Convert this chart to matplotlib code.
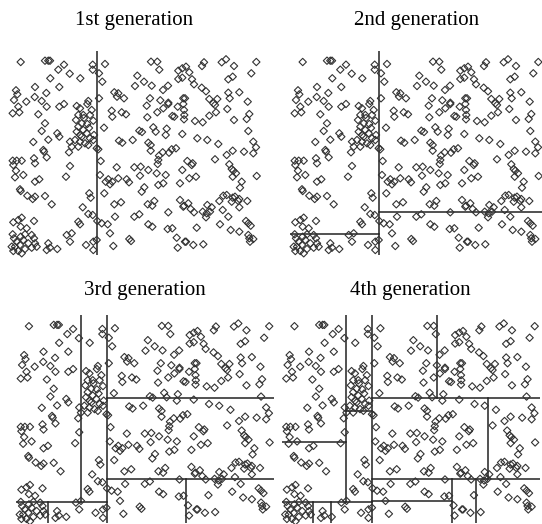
import matplotlib
matplotlib.use("Agg")
import matplotlib.pyplot as plt
import numpy as np

# point positions (same sample in every panel)
pts = [
    (20.7, 62), (45, 60.7), (48.3, 60.7), (50, 60.7), (64, 64.7), (58.3, 69.7), (69.7, 73.7),
    (92.7, 64.7), (92.7, 69.7), (50.3, 78.3), (80.3, 78.3), (35, 87), (59.3, 87), (16, 90.3),
    (17.3, 94.3), (46.3, 93), (14, 100), (26.3, 101.7), (34.7, 97), (41.7, 101), (88.3, 101),
    (105, 64), (99, 73.3), (102.3, 81.7), (151, 61.7), (157.3, 61.7), (159.3, 69.7), (137.3, 75.7),
    (144, 81.7), (135, 86), (151.7, 85.7), (168, 85.7), (163, 90), (178.3, 70.7), (182.3, 68.3),
    (178.3, 79), (182.3, 77.7), (114.3, 92.3), (118.3, 93.3), (117, 96.7), (124, 98.3), (99, 98.3),
    (150, 98.3), (160.3, 100.3), (168.3, 102.7), (183.3, 98.3),
    (186, 66.7), (189.3, 72.3), (192, 79.3), (194, 84.3), (204, 62.3), (202, 66), (221.7, 62.3),
    (226, 59.3), (234, 66), (256.3, 62), (251.3, 73.3), (232.7, 76.7), (228.3, 79.3), (201.7, 87.7),
    (206, 91.3), (185, 98.3), (228.3, 92.7), (229.7, 98.3), (239.3, 92.3), (209.3, 99), (217.3, 99),
    (213.3, 103.3), (247.7, 101.7),
    (18.3, 106.7), (12.7, 113.3), (19.3, 112.3), (46.7, 106.7), (59.3, 106.7), (64, 104), (38.3, 114.3),
    (45, 123.3), (41.7, 131), (57.3, 133.3), (59.3, 136.7), (33.3, 142), (48.3, 139.7), (43.3, 150),
    (44, 151.7), (46.7, 157.3), (70, 141.7), (71.7, 146.7), (69, 152.3),
    (76.7, 106), (80, 108.3), (87.3, 104), (91.7, 110), (90, 115), (83.3, 115), (78.3, 115), (76, 120),
    (81.7, 123.3), (87.3, 124), (93.3, 120.7), (78.3, 126.7), (83.3, 130), (76.7, 131.7), (86.7, 133.3),
    (81.7, 136.7), (90, 138.3), (75, 140), (80, 141.7), (85, 143.3), (93.3, 140), (78.3, 146.7),
    (88.3, 145), (96.7, 148.3), (94, 135), (84, 118), (89, 128), (80, 135),
    (12.7, 160.7), (16.7, 160.7), (21.7, 160.7), (13.3, 165), (34, 158.3), (35, 163.3), (16, 170.7),
    (23.3, 175), (15, 177.3), (39.3, 179.3), (66, 176.7), (70, 166),
    (146.7, 105.7), (111.7, 110.7), (121.7, 112.3), (126, 114.3), (112.3, 116.7), (157.3, 112.3),
    (163.3, 108.3), (168.3, 104), (177.7, 106.7), (183.3, 104), (172.3, 116), (174.3, 116.7),
    (184.3, 115), (147.3, 117.3), (104, 127.7), (139.3, 130.7), (142, 132), (153.3, 127.3),
    (155.7, 131.7), (166.7, 128.7), (165.7, 135), (182.3, 134), (119, 140.7), (122.3, 142.7),
    (132.7, 140), (148.3, 142.7), (150.7, 145), (98.3, 149.3), (150.7, 150.7), (162.7, 152.3),
    (159, 155.7), (158.3, 160), (157.7, 164), (169, 152.7), (171.7, 149.3), (176, 148.3),
    (100.7, 161), (116.7, 167.3), (134.3, 167.3), (140.7, 166.7), (148.3, 170), (156.7, 173.3),
    (165.7, 175), (182.3, 170), (100, 175), (108.3, 179.3), (118.3, 178.3), (126.7, 179.3), (140, 175.7),
    (215, 105), (184, 110), (184, 119.3), (227.3, 109), (216, 112.3), (209.3, 115.7), (195, 121),
    (202.7, 122.3), (234, 120), (249.3, 114), (246.7, 119), (248.3, 131), (197.3, 138.3), (207.3, 140),
    (218.3, 144), (253.3, 141.7), (256, 147.3), (253.3, 153.3), (232.7, 150.7), (226.7, 155),
    (244, 151.7), (215, 159.3), (187.3, 161), (192.7, 163.3), (191.7, 165), (229.3, 164.3),
    (231.7, 169), (233.3, 170.7), (236, 173.3), (232.7, 176.7), (256.7, 176), (189.3, 178.3), (196, 176.7),
    (35, 181.7), (20, 189.3), (20.7, 191), (27.3, 195.7), (32.7, 199), (35, 196.7), (45, 196),
    (51.7, 204.3), (89.3, 193.3), (90.7, 197.7), (82.7, 207.3), (88.3, 214), (92.7, 215), (97.3, 221),
    (78.3, 221.7), (80, 224.3), (34, 221), (13.3, 222.3), (18.3, 220), (21.7, 217.7), (20.7, 226.7),
    (26.7, 228.3),
    (12.7, 234.3), (14, 238.3), (16.7, 241.7), (20.7, 236.7), (23.3, 240), (25, 234.3), (31.7, 235),
    (34, 238.3), (35, 243.3), (28.3, 243.3), (20, 245), (15, 246.7), (11.7, 246.7), (18.3, 251),
    (25, 249), (31.7, 247.7), (13.3, 251), (21.7, 253.3), (36.7, 246.7),
    (48.3, 243.3), (50, 247.7), (46.7, 250), (57.3, 249), (66.7, 235), (71.7, 233.3), (70, 241.7),
    (86, 245), (93.3, 241.7), (96.7, 240), (93.3, 250),
    (105.7, 181.7), (110, 184.3), (112.3, 181.7), (129, 182.3), (158.3, 185), (163.3, 183.3),
    (180, 183.3), (104.3, 193.3), (144.3, 187.3), (141.7, 191.7), (114.3, 204.3), (121, 202.3),
    (147.7, 204.3), (152.3, 205.7), (154.3, 201), (180, 200), (183.3, 206.7), (115, 216.7),
    (134.3, 216.7), (139.3, 214.3), (168.3, 212.3), (101.7, 223.3), (107.7, 224.3), (148.3, 224.3),
    (152.3, 226.7), (167.7, 229), (172.3, 228.3), (110, 233.3), (176.7, 237.7), (129.3, 239),
    (131, 241), (113.3, 246), (177.7, 247.7), (185, 241.7),
    (241.7, 181.7), (240, 187.7), (184, 205.7), (188.3, 203.3), (190.7, 209), (194, 212.3),
    (207.3, 205), (211.7, 207.3), (202.7, 211.7), (206.7, 213.3), (210, 211.7), (206, 217.3),
    (219.3, 201), (223.3, 195.7), (226.7, 195), (232.7, 197.7), (235, 196.7), (239.3, 199),
    (231.7, 201.7), (238.3, 201), (247.3, 201), (239.3, 207.3), (222.7, 210), (228.3, 216.7),
    (196.7, 227.7), (220, 224.3), (230.7, 230), (239.3, 231.7), (246, 221), (248.3, 223.3),
    (250.7, 225.7), (248.3, 235), (249.3, 238.3), (253.3, 239), (250, 241.7), (186, 241.7),
    (193.3, 245), (203.3, 244.3),
]
px = np.array([p[0] for p in pts])
py = np.array([p[1] for p in pts])

xmin, xmax = 8, 261
ymin, ymax = 51, 255

# split segments added in each generation: (x0, x1, y0, y1)
gen1 = [(97, 97, ymin, ymax)]
gen2 = [(xmin, 97, 234, 234), (97, xmax, 212.3, 212.3)]
gen3 = [(71.5, 71.5, ymin, 234), (39, 39, 234, ymax), (97, xmax, 132.5, 132.5),
        (174.8, 174.8, 212.3, ymax)]
gen4 = [(xmin, 71.5, 175.5, 175.5), (71.5, 97, 144.8, 144.8), (56.4, 56.4, 234, ymax),
        (160.7, 160.7, ymin, 132.5), (210.4, 210.4, 132.5, 212.3), (97, 174.8, 233.2, 233.2),
        (198.7, 198.7, 212.3, ymax)]

titles = ["1st generation", "2nd generation", "3rd generation", "4th generation"]

W, H = 542, 524
fig = plt.figure(figsize=(W / 100, H / 100), dpi=100)

# panel boxes in pixels: left, right, top, bottom
boxes = [(8, 261, 51, 255), (290, 543, 51, 255),
         (16, 274, 315, 523), (281.5, 539.5, 315, 523)]

for k, (l, r, t, b) in enumerate(boxes):
    ax = fig.add_axes([l / W, 1 - b / H, (r - l) / W, (b - t) / H])
    ax.scatter(px, py, marker='D', s=14, facecolors='none', edgecolors='#333333',
               linewidths=0.8, clip_on=False, zorder=3)
    segs = gen1 + (gen2 if k >= 1 else []) + (gen3 if k >= 2 else []) + (gen4 if k >= 3 else [])
    for x0, x1, y0, y1 in segs:
        ax.plot([x0, x1], [y0, y1], color='#222222', lw=1.1, zorder=2)
    ax.set_xlim(xmin, xmax)
    ax.set_ylim(ymax, ymin)
    ax.axis('off')
    fig.text((l + r) / 2 / W, 1 - (20 if k < 2 else 290) / H, titles[k],
             ha='center', va='center', fontsize=15, family='Liberation Serif')

fig.savefig('out.png', dpi=100)
